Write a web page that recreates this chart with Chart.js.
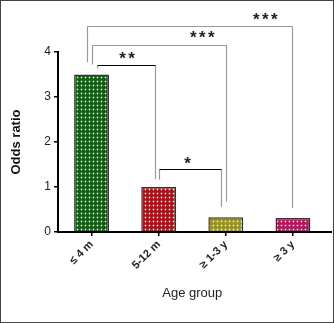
<!DOCTYPE html>
<html><head><meta charset="utf-8">
<script src="https://cdn.jsdelivr.net/npm/chart.js@4"></script>
<style>body{margin:0;background:#fff}#wrap{width:334px;height:323px;position:relative}</style>
</head><body><div id="wrap"><canvas id="c" width="334" height="323"></canvas></div>
<script>
const categories = ['≤ 4 m', '5-12 m', '≥ 1-3 y', '≥ 3 y'];
const oddsRatio = [3.5, 1.0, 0.33, 0.31];
const yTicks = [0, 1, 2, 3, 4];
const barColors = ['#136214', '#b01019', '#9c9418', '#b8145f'];
// significance brackets (x in category-index units, y in data units)
const brackets = [
  { x1: -0.075, x2: 2.985, y: 4.58, leg1: 3.78, leg2: 0.53, stars: 3, sx: 2.59, sy: 4.78, color: '#999' },
  { x1: 0.0,    x2: 2.01,  y: 4.16, leg1: 3.72, leg2: 0.67, stars: 3, sx: 1.65, sy: 4.36, color: '#999' },
  { x1: 0.075,  x2: 0.94,  y: 3.71, leg1: 3.64, leg2: 1.18, stars: 2, sx: 0.53, sy: 3.90, color: '#000' },
  { x1: 1.01,   x2: 1.93,  y: 1.40, leg1: 1.16, leg2: 0.56, stars: 1, sx: 1.43, sy: 1.56, color: '#000' }
];

function makePattern(color) {
  const p = document.createElement('canvas');
  p.width = 4; p.height = 4;
  const g = p.getContext('2d');
  g.fillStyle = color; g.fillRect(0, 0, 4, 4);
  g.fillStyle = 'rgba(255,255,255,0.25)';
  g.fillRect(0, 1, 3, 1); g.fillRect(1, 0, 1, 3);
  g.fillStyle = 'rgba(255,255,255,0.85)';
  g.fillRect(1, 1, 1, 1);
  return g.createPattern(p, 'repeat');
}

const overlay = {
  id: 'overlay',
  afterDraw(chart) {
    const ctx = chart.ctx, xs = chart.scales.x, ys = chart.scales.y, ca = chart.chartArea;
    const p0 = xs.getPixelForValue(0), p1 = xs.getPixelForValue(1);
    const X = v => p0 + v * (p1 - p0);
    ctx.save();
    ctx.strokeStyle = '#000'; ctx.lineWidth = 2;
    ctx.beginPath(); ctx.moveTo(ca.right - 1, ys.getPixelForValue(0)); ctx.lineTo(332, ys.getPixelForValue(0)); ctx.stroke();
    brackets.forEach(b => {
      const xa = Math.round(X(b.x1)) + 0.5, xb = Math.round(X(b.x2)) + 0.5, yy = Math.round(ys.getPixelForValue(b.y)) + 0.5;
      ctx.lineWidth = 1.2;
      ctx.strokeStyle = '#999';
      ctx.beginPath();
      ctx.moveTo(xa, ys.getPixelForValue(b.leg1)); ctx.lineTo(xa, yy);
      ctx.moveTo(xb, yy); ctx.lineTo(xb, ys.getPixelForValue(b.leg2));
      ctx.stroke();
      ctx.strokeStyle = b.color;
      ctx.beginPath(); ctx.moveTo(xa, yy); ctx.lineTo(xb, yy); ctx.stroke();
      ctx.fillStyle = '#222';
      ctx.font = 'bold 17px Arial, "Liberation Sans", sans-serif';
      ctx.textAlign = 'center'; ctx.textBaseline = 'middle';
      const cx = X(b.sx), cy = ys.getPixelForValue(b.sy) + 3;
      for (let i = 0; i < b.stars; i++) {
        ctx.fillText('*', cx + (i - (b.stars - 1) / 2) * 9, cy);
      }
    });
    ctx.strokeStyle = '#444'; ctx.lineWidth = 1;
    ctx.strokeRect(0.5, 0.5, 333, 322);
    ctx.restore();
  }
};

new Chart(document.getElementById('c'), {
  type: 'bar',
  data: {
    labels: categories,
    datasets: [{
      data: oddsRatio,
      backgroundColor: barColors.map(makePattern),
      borderColor: '#333',
      borderWidth: 1.5,
      borderSkipped: 'bottom',
      barPercentage: 0.52,
      categoryPercentage: 1
    }]
  },
  options: {
    responsive: false,
    animation: false,
    devicePixelRatio: 1,
    layout: { padding: { top: 52, right: 7.5, left: 0, bottom: 0 } },
    plugins: { legend: { display: false }, tooltip: { enabled: false } },
    scales: {
      x: {
        afterFit: s => { s.height = 91; },
        grid: { display: true, drawOnChartArea: false, drawTicks: true, tickLength: 4, offset: false, color: '#000', lineWidth: 1.5 },
        border: { display: true, color: '#000', width: 2 },
        ticks: { minRotation: 45, maxRotation: 45, color: '#222', padding: 2, font: { family: 'Arial, "Liberation Sans", sans-serif', size: 11, weight: 'bold' } },
        title: { display: true, text: 'Age group', color: '#222', padding: { top: 22, bottom: 22 }, font: { family: 'Arial, "Liberation Sans", sans-serif', size: 13 } }
      },
      y: {
        min: 0, max: 4,
        afterFit: s => { s.width = 58; },
        afterBuildTicks: s => { s.ticks = yTicks.map(v => ({ value: v })); },
        grid: { display: true, drawOnChartArea: false, drawTicks: true, tickLength: 4, color: '#000', lineWidth: 1.5 },
        border: { display: true, color: '#000', width: 2 },
        ticks: { color: '#222', padding: 3, font: { family: 'Arial, "Liberation Sans", sans-serif', size: 12 } },
        title: { display: true, text: 'Odds ratio', color: '#111', padding: 9, font: { family: 'Arial, "Liberation Sans", sans-serif', size: 13, weight: 'bold' } }
      }
    }
  },
  plugins: [overlay]
});
</script></body></html>
